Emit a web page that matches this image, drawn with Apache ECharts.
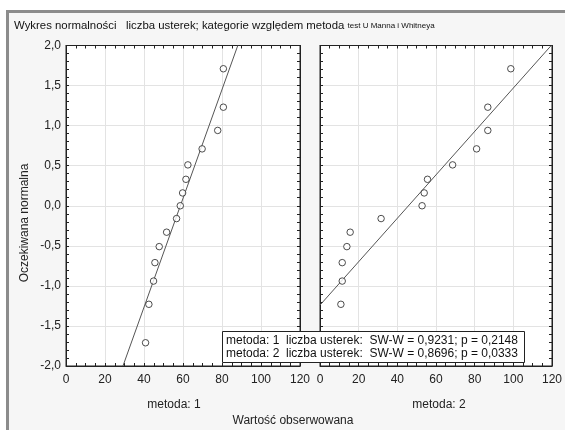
<!DOCTYPE html>
<html><head><meta charset="utf-8">
<script src="https://cdn.jsdelivr.net/npm/echarts@6/dist/echarts.min.js"></script>
<style>html,body{margin:0;padding:0;background:#fff}#c{width:565px;height:430px}</style>
</head><body><div id="c"></div>
<script>
// metoda: 1 (observed value, expected normal)
const m1X = [80.7, 80.7, 77.8, 69.8, 62.5, 61.5, 59.8, 58.6, 56.7, 51.6, 47.8, 45.6, 44.9, 42.5, 40.8];
const m1Y = [1.71, 1.23, 0.94, 0.71, 0.51, 0.33, 0.16, 0.00, -0.16, -0.33, -0.51, -0.71, -0.94, -1.23, -1.71];
// metoda: 2
const m2X = [98.7, 86.8, 86.8, 81.0, 68.6, 55.6, 53.9, 52.8, 31.6, 15.6, 13.9, 11.5, 11.5, 10.8, 8.0];
const m2Y = [1.71, 1.23, 0.94, 0.71, 0.51, 0.33, 0.16, 0.00, -0.16, -0.33, -0.51, -0.71, -0.94, -1.23, -1.71];
// fitted normal lines (endpoints)
const line1 = [[29.2, -2.0], [88.1, 2.0]];
const line2 = [[0, -1.24], [119.6, 2.0]];
const panelNames = ['metoda: 1', 'metoda: 2'];
const legendLines = [
  'metoda: 1  liczba usterek:  SW-W = 0,9231; p = 0,2148',
  'metoda: 2  liczba usterek:  SW-W = 0,8696; p = 0,0333'
];
const titleMain = 'Wykres normalności   liczba usterek; kategorie względem metoda ';
const titleSmall = 'test U Manna i Whitneya';
const xTitle = 'Wartość obserwowana';
const yTitle = 'Oczekiwana normalna';

const FONT = '"Liberation Sans", Arial, sans-serif';
const chart = echarts.init(document.getElementById('c'), null, {renderer: 'canvas'});
const fmt = v => v.toFixed(1).replace('.', ',');

function xAx(gi, pos, labels) {
  return {
    type: 'value', gridIndex: gi, position: pos, min: 0, max: 120, interval: 20,
    axisLine: {show: true, onZero: false, lineStyle: {color: '#222', width: 1}},
    axisTick: {show: true, inside: true, length: 3, lineStyle: {color: '#222'}},
    minorTick: {show: true, splitNumber: 4, length: 3, lineStyle: {color: '#222'}},
    axisLabel: {show: labels, color: '#222', fontFamily: FONT, fontSize: 12, margin: 8},
    splitLine: {show: labels, lineStyle: {color: '#e3e3e3', width: 1}}
  };
}
function yAx(gi, pos, labels, grid) {
  return {
    type: 'value', gridIndex: gi, position: pos, min: -2, max: 2, interval: 0.5,
    axisLine: {show: true, onZero: false, lineStyle: {color: '#222', width: 1}},
    axisTick: {show: true, inside: true, length: 3, lineStyle: {color: '#222'}},
    minorTick: {show: true, splitNumber: 5, length: 3, lineStyle: {color: '#222'}},
    axisLabel: {show: labels, color: '#222', fontFamily: FONT, fontSize: 12, margin: 5, formatter: fmt},
    splitLine: {show: grid, lineStyle: {color: '#e3e3e3', width: 1}}
  };
}
const pts = (xs, ys) => xs.map((x, i) => [x, ys[i]]);
const scatterStyle = {
  type: 'scatter', symbol: 'circle', symbolSize: 6.5,
  itemStyle: {color: '#fff', borderColor: '#222', borderWidth: 1}, z: 5, silent: true
};
const lineStyle = {
  type: 'line', showSymbol: false, symbol: 'none',
  lineStyle: {color: '#555', width: 1}, z: 4, silent: true, clip: true
};

chart.setOption({
  backgroundColor: '#fff',
  animation: false,
  grid: [
    {left: 66, right: 265, top: 45.5, bottom: 64, show: true, backgroundColor: '#fff', borderColor: '#222', borderWidth: 1},
    {left: 320, right: 12, top: 45.5, bottom: 64, show: true, backgroundColor: '#fff', borderColor: '#222', borderWidth: 1}
  ],
  xAxis: [xAx(0, 'bottom', true), xAx(1, 'bottom', true), xAx(0, 'top', false), xAx(1, 'top', false)],
  yAxis: [yAx(0, 'left', true, true), yAx(1, 'left', false, true), yAx(0, 'right', false, false), yAx(1, 'right', false, false)],
  series: [
    Object.assign({}, lineStyle, {xAxisIndex: 0, yAxisIndex: 0, data: line1}),
    Object.assign({}, lineStyle, {xAxisIndex: 1, yAxisIndex: 1, data: line2}),
    Object.assign({}, scatterStyle, {xAxisIndex: 0, yAxisIndex: 0, data: pts(m1X, m1Y)}),
    Object.assign({}, scatterStyle, {xAxisIndex: 1, yAxisIndex: 1, data: pts(m2X, m2Y)})
  ],
  graphic: [
    {type: 'rect', shape: {x: 6, y: 13, width: 559, height: 417}, style: {fill: '#f6f6f6'}, z: -10, silent: true},
    {type: 'rect', shape: {x: 6, y: 10, width: 559, height: 3}, style: {fill: '#8c8c8c'}, z: -9, silent: true},
    {type: 'rect', shape: {x: 6, y: 10, width: 3, height: 420}, style: {fill: '#8c8c8c'}, z: -9, silent: true},
    {type: 'text', left: 14, top: 20, z: 10, silent: true,
      style: {text: '{a|' + titleMain + '}{b|' + titleSmall + '}', fill: '#111',
        rich: {a: {fontFamily: FONT, fontSize: 11.4, fill: '#111'}, b: {fontFamily: FONT, fontSize: 8, fill: '#111'}}}},
    {type: 'text', x: 25, y: 223, rotation: Math.PI / 2, z: 10, silent: true,
      style: {text: yTitle, fontFamily: FONT, fontSize: 12, fill: '#222', align: 'center', verticalAlign: 'middle'}},
    {type: 'text', x: 174, y: 405, z: 10, silent: true,
      style: {text: panelNames[0], fontFamily: FONT, fontSize: 12, fill: '#222', align: 'center', verticalAlign: 'middle'}},
    {type: 'text', x: 439, y: 405, z: 10, silent: true,
      style: {text: panelNames[1], fontFamily: FONT, fontSize: 12, fill: '#222', align: 'center', verticalAlign: 'middle'}},
    {type: 'text', x: 293, y: 421, z: 10, silent: true,
      style: {text: xTitle, fontFamily: FONT, fontSize: 12, fill: '#222', align: 'center', verticalAlign: 'middle'}},
    {type: 'rect', z: 100, silent: true, shape: {x: 222.5, y: 331.5, width: 302, height: 31},
      style: {fill: '#fff', stroke: '#222', lineWidth: 1}},
    {type: 'text', x: 226, y: 341, z: 101, silent: true,
      style: {text: legendLines[0], fontFamily: FONT, fontSize: 12, fill: '#111', align: 'left', verticalAlign: 'middle'}},
    {type: 'text', x: 226, y: 354, z: 101, silent: true,
      style: {text: legendLines[1], fontFamily: FONT, fontSize: 12, fill: '#111', align: 'left', verticalAlign: 'middle'}}
  ]
});
</script></body></html>
